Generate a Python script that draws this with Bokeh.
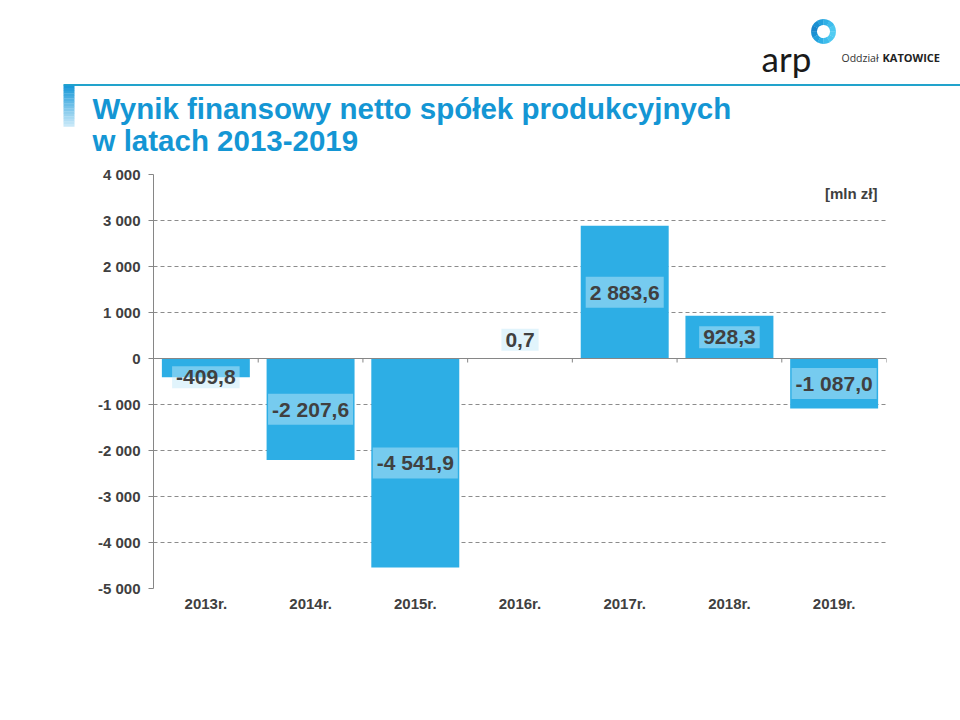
import math
from bokeh.plotting import figure
from bokeh.layouts import column
from bokeh.models import (FixedTicker, Span, Label, ColumnDataSource, Range1d, FactorRange)
from bokeh.transform import dodge
from bokeh.core.properties import value
from bokeh.embed import file_html
from bokeh.resources import INLINE

# ---------------- data ----------------
years = ["2013r.", "2014r.", "2015r.", "2016r.", "2017r.", "2018r.", "2019r."]
results = [-409.8, -2207.6, -4541.9, 0.7, 2883.6, 928.3, -1087.0]
y_ticks = [-5000, -4000, -3000, -2000, -1000, 0, 1000, 2000, 3000, 4000]
y_tick_labels = ["-5 000", "-4 000", "-3 000", "-2 000", "-1 000", "0",
                 "1 000", "2 000", "3 000", "4 000"]
title_lines = ["Wynik finansowy netto spółek produkcyjnych", "w latach 2013-2019"]
unit_text = "[mln zł]"
logo_text = "arp"
branch_text = ["Oddział", "KATOWICE"]

# ---------------- layout ----------------
W, H = 960, 720
HEAD = 164                      # height of the header strip
FL, FR, FT, FB = 153, 886, 174, 588   # plot frame in page pixels
YMIN, YMAX = -5000, 4000
FONT = "Liberation Sans"
TXT = "#404040"
BAR = "#2DAEE5"
TITLE_C = "#1496D4"


def fmt(v):
    return f"{v:,.1f}".replace(",", " ").replace(".", ",")


def label_pos(v):
    return v / 2 if abs(v) >= 500 else math.copysign(410, v)


# ================= header (title + logo) =================
hd = figure(width=W, height=HEAD, x_range=Range1d(0, W), y_range=Range1d(HEAD, 0),
            output_backend="svg", toolbar_location=None,
            min_border=0, min_border_left=0, min_border_right=0,
            min_border_top=0, min_border_bottom=0)
hd.axis.visible = False
hd.grid.visible = False
hd.outline_line_color = None
hd.background_fill_color = "white"
hd.border_fill_color = "white"

# header rule
hd.quad(left=[63], right=[W], top=[83.5], bottom=[85.5], fill_color="#22A3CC", line_color=None)

# accent gradient bar
c0 = (0x1A, 0x99, 0xD8)
c1 = (0xC8, 0xE8, 0xF8)
n = 16
top_y, bot_y = 85, 126
gl, gr, gt, gb, gc = [], [], [], [], []
for k in range(n):
    t = k / (n - 1)
    gc.append("#%02X%02X%02X" % tuple(int(round(a + (b - a) * t)) for a, b in zip(c0, c1)))
    gl.append(63); gr.append(74)
    gt.append(top_y + (bot_y - top_y) * k / n)
    gb.append(top_y + (bot_y - top_y) * (k + 1) / n + 0.3)
hd.quad(left=gl, right=gr, top=gt, bottom=gb, fill_color=gc, line_color=None)

# title
for i, line in enumerate(title_lines):
    hd.text(x=[92], y=[108 + 32 * i], text=[line], text_font=value(FONT),
            text_font_style="bold", text_font_size="29.5px", text_color=TITLE_C,
            text_align="left", text_baseline="alphabetic")

# logo ring (gradient in pieces)
ring_cols = ["#4CC8F0", "#3EBDEC", "#2FB0E6", "#22A0DC", "#1A90D2", "#1884CA",
             "#1A90D2", "#22A0DC", "#2FB0E6", "#3EBDEC", "#4CC8F0", "#52CCF2"]
nw = len(ring_cols)
hd.annular_wedge(x=[823] * nw, y=[31] * nw, inner_radius=6.5, outer_radius=12.5,
                 start_angle=[2 * math.pi * k / nw for k in range(nw)],
                 end_angle=[2 * math.pi * (k + 1) / nw + 0.02 for k in range(nw)],
                 fill_color=ring_cols, line_color=None)
hd.text(x=[761], y=[57], text=[logo_text], text_font=value("Lato"),
        text_font_size="35px", text_color="#1A1A1A", text_baseline="alphabetic")
hd.text(x=[841], y=[57], text=[branch_text[0]], text_font=value("Open Sans"),
        text_font_size="10.5px", text_color="#333333", text_baseline="alphabetic")
hd.text(x=[882], y=[57], text=[branch_text[1]], text_font=value("Open Sans"),
        text_font_style="bold", text_font_size="11px", text_color="#222222",
        text_baseline="alphabetic")

# ================= chart =================
src = ColumnDataSource(dict(
    year=years,
    value=results,
    label=[fmt(v) for v in results],
    label_y=[label_pos(v) for v in results],
))

p = figure(width=W, height=H - HEAD,
           x_range=FactorRange(factors=years),
           y_range=Range1d(YMIN, YMAX),
           output_backend="svg", toolbar_location=None,
           min_border_left=FL, min_border_right=W - FR,
           min_border_top=FT - HEAD, min_border_bottom=H - FB)
p.outline_line_color = None
p.background_fill_color = "white"
p.border_fill_color = "white"

# grid
p.xgrid.grid_line_color = None
p.ygrid.ticker = FixedTicker(ticks=y_ticks)
p.ygrid.grid_line_color = "#8C8C8C"
p.ygrid.grid_line_dash = "4 3"
p.ygrid.grid_line_width = 1

# y axis
p.yaxis.ticker = FixedTicker(ticks=y_ticks)
p.yaxis.major_label_overrides = dict(zip(y_ticks, y_tick_labels))
p.yaxis.axis_line_color = "#868686"
p.yaxis.major_tick_line_color = "#868686"
p.yaxis.major_tick_out = 5
p.yaxis.major_tick_in = 0
p.yaxis.minor_tick_line_color = None
p.yaxis.major_label_standoff = 8
p.yaxis.major_label_text_font = FONT
p.yaxis.major_label_text_font_style = "bold"
p.yaxis.major_label_text_font_size = "15px"
p.yaxis.major_label_text_color = TXT

# x axis
p.xaxis.axis_line_color = None
p.xaxis.major_tick_line_color = None
p.xaxis.minor_tick_line_color = None
p.xaxis.major_tick_out = 0
p.xaxis.major_label_standoff = 6
p.xaxis.major_label_text_font = FONT
p.xaxis.major_label_text_font_style = "bold"
p.xaxis.major_label_text_font_size = "15px"
p.xaxis.major_label_text_color = TXT

# bars
p.vbar(x="year", top="value", bottom=0, width=0.84, source=src,
       fill_color=BAR, line_color=None)

# zero line and category boundary ticks
p.add_layout(Span(location=0, dimension="width", line_color="#868686", line_width=1))
tick_len = 4 * (YMAX - YMIN) / (FB - FT)
p.segment(x0=dodge("year", 0.5, range=p.x_range), y0=0,
          x1=dodge("year", 0.5, range=p.x_range), y1=-tick_len,
          source=src, line_color="#868686", line_width=1)

# value labels
p.text(x="year", y="label_y", text="label", source=src,
       text_font=value(FONT), text_font_style="bold", text_font_size="21px",
       text_color=TXT, text_align="center", text_baseline="middle",
       background_fill_color="#C2E9F9", background_fill_alpha=0.49,
       padding=4)

# unit
p.add_layout(Label(x=877 - FL, y=FB - 193, x_units="screen", y_units="screen",
                   text=unit_text, text_font=FONT, text_font_style="bold",
                   text_font_size="15px", text_color=TXT,
                   text_align="right", text_baseline="middle"))

layout = column(column(hd, spacing=0), column(p, spacing=0), spacing=0)
open("out.html", "w").write(file_html(layout, INLINE))
